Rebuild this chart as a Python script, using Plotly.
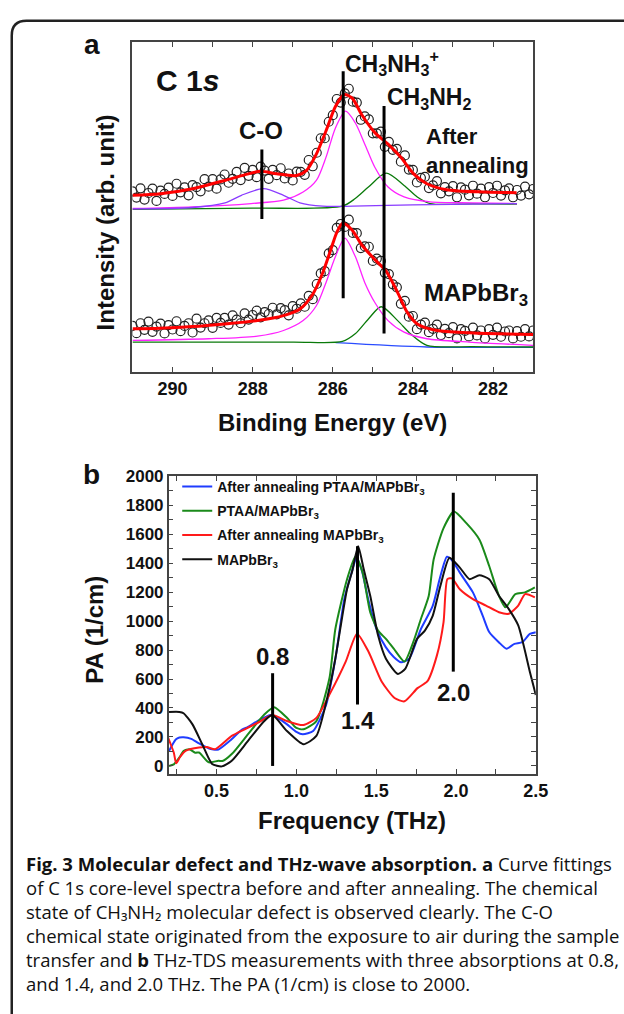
import plotly.graph_objects as go

W, H = 624, 1014
FONT = "Liberation Sans, Arial, sans-serif"
CAP_FONT = "Open Sans, Lato, sans-serif"

# ---------------- Panel a: XPS C 1s ----------------
energy_pts = [291.0, 290.9, 290.8, 290.7, 290.6, 290.5, 290.4, 290.3, 290.2, 290.1,
              290.0, 289.9, 289.8, 289.7, 289.6, 289.5, 289.4, 289.3, 289.2, 289.1,
              289.0, 288.9, 288.8, 288.7, 288.6, 288.5, 288.4, 288.3, 288.2, 288.1,
              288.0, 287.9, 287.8, 287.7, 287.6, 287.5, 287.4, 287.3, 287.2, 287.1,
              287.0, 286.9, 286.8, 286.7, 286.6, 286.5, 286.4, 286.3, 286.2, 286.1,
              286.0, 285.9, 285.8, 285.7, 285.6, 285.5, 285.4, 285.3, 285.2, 285.1,
              285.0, 284.9, 284.8, 284.7, 284.6, 284.5, 284.4, 284.3, 284.2, 284.1,
              284.0, 283.9, 283.8, 283.7, 283.6, 283.5, 283.4, 283.3, 283.2, 283.1,
              283.0, 282.9, 282.8, 282.7, 282.6, 282.5, 282.4, 282.3, 282.2, 282.1,
              282.0, 281.9, 281.8, 281.7, 281.6, 281.5, 281.4, 281.3, 281.2, 281.1,
              281.0]

annealed_pts = [54.7, 52.8, 55.6, 52.2, 54.2, 55.5, 51.8, 54.9, 53.9, 55.8,
                53.3, 57.0, 54.4, 55.9, 53.5, 56.6, 56.0, 54.7, 58.4, 56.1,
                58.4, 55.5, 58.3, 59.8, 57.3, 58.5, 60.6, 58.1, 61.8, 59.4,
                61.2, 59.0, 62.2, 61.0, 58.5, 61.2, 59.6, 61.7, 58.6, 60.1,
                58.0, 60.7, 60.6, 59.7, 64.2, 62.3, 66.4, 70.8, 70.8, 75.8,
                77.8, 82.7, 81.6, 84.4, 85.8, 81.9, 81.6, 76.4, 77.4, 76.5,
                72.3, 72.3, 72.8, 68.2, 69.7, 67.3, 67.6, 63.7, 65.6, 61.3,
                61.2, 57.4, 58.8, 59.1, 55.7, 56.5, 57.8, 54.1, 56.0, 54.7,
                56.3, 52.9, 55.9, 55.2, 53.5, 56.4, 54.0, 55.5, 52.9, 56.0,
                54.2, 56.4, 53.4, 55.0, 55.6, 52.9, 55.1, 53.4, 56.1, 53.8,
                55.4]

pristine_pts = [13.9, 11.7, 14.7, 12.7, 15.2, 12.1, 13.7, 14.6, 11.6, 14.1,
                12.8, 15.3, 12.3, 13.9, 14.7, 11.9, 16.1, 13.4, 14.7, 15.6,
                13.3, 16.3, 14.8, 16.3, 14.3, 17.1, 15.8, 14.7, 17.7, 15.8,
                17.2, 18.5, 16.5, 18.1, 17.5, 19.4, 17.4, 19.3, 18.7, 17.1,
                19.9, 19.1, 20.7, 19.7, 23.0, 22.0, 26.6, 29.8, 30.5, 35.9,
                36.9, 43.6, 44.8, 43.9, 46.1, 42.1, 42.0, 37.5, 38.0, 37.9,
                33.6, 34.3, 33.6, 30.0, 29.6, 26.5, 25.6, 20.6, 21.5, 16.7,
                16.9, 12.9, 14.3, 14.9, 12.0, 13.0, 14.3, 11.1, 13.0, 11.7,
                13.5, 10.1, 12.9, 12.4, 10.7, 13.4, 11.0, 12.5, 10.1, 12.9,
                11.2, 13.4, 10.6, 12.2, 12.5, 10.1, 12.3, 10.6, 12.9, 10.7,
                12.5]

# fitted envelopes
annealed_fit_e = [291.0, 290.3, 289.5, 288.7, 288.2, 287.8, 287.4, 286.9, 286.66, 286.41,
                  286.17, 285.93, 285.72, 285.52, 285.28, 284.95, 284.62, 284.30, 283.98,
                  283.65, 283.16, 282.19, 281.41]
annealed_fit_v = [53.5, 54.0, 55.5, 58.0, 59.7, 60.8, 60.0, 59.5, 61.0, 66.0,
                  73.0, 80.5, 84.0, 83.0, 78.0, 72.5, 69.0, 65.0, 60.0,
                  57.0, 55.2, 54.5, 54.3]
pristine_fit_e = [291.0, 290.32, 289.5, 288.69, 287.88, 287.23, 286.82, 286.5, 286.25, 286.05,
                  285.89, 285.75, 285.52, 285.28, 284.95, 284.67, 284.38, 284.14, 283.89,
                  283.40, 282.59, 281.05, 281.0]
pristine_fit_v = [13.0, 13.2, 13.7, 14.5, 15.5, 17.0, 19.0, 23.5, 30.0, 37.0,
                  42.5, 45.0, 43.0, 38.5, 34.0, 30.5, 24.0, 18.0, 14.5,
                  12.5, 11.8, 11.3, 11.3]

# components, after annealing
ann_mag_e = [291.0, 289.5, 288.04, 287.23, 286.74, 286.41, 286.17, 285.93, 285.68, 285.44,
             285.2, 284.95, 284.62, 284.22, 283.57, 282.5, 281.4]
ann_mag_v = [49.5, 50.0, 51.0, 52.0, 54.5, 58.0, 65.0, 74.0, 79.0, 75.5,
             69.0, 62.0, 56.0, 53.0, 51.5, 51.2, 51.0]
ann_co_e = [291.0, 289.5, 288.69, 288.28, 287.73, 287.23, 286.82, 286.25, 285.5, 284.0, 281.4]
ann_co_v = [49.4, 49.8, 51.2, 53.5, 55.5, 53.5, 51.2, 50.2, 50.2, 50.6, 51.0]
ann_am_e = [291.0, 288.0, 285.76, 285.44, 285.11, 284.67, 284.22, 283.89, 283.57, 282.5, 281.4]
ann_am_v = [49.2, 49.6, 50.2, 52.5, 56.0, 60.2, 56.5, 53.0, 51.0, 50.9, 50.8]

# components, MAPbBr3
pri_mag_e = [291.0, 289.1, 287.88, 287.23, 286.74, 286.41, 286.17, 285.93, 285.70, 285.44,
             285.2, 284.95, 284.62, 284.22, 283.65, 282.6, 281.0]
pri_mag_v = [9.5, 10.0, 10.8, 12.5, 15.5, 20.0, 27.0, 35.0, 40.5, 35.0,
             27.0, 21.0, 15.5, 12.0, 10.0, 9.0, 8.0]
pri_am_e = [291.0, 287.0, 285.76, 285.44, 285.11, 284.79, 284.38, 284.06, 283.65, 282.5, 281.0]
pri_am_v = [9.0, 9.0, 9.2, 11.5, 16.0, 19.7, 15.5, 11.5, 8.0, 7.6, 7.5]
pri_bg_e = [285.93, 283.65, 281.0]
pri_bg_v = [8.8, 7.5, 7.4]

# peak marker lines (energy, bottom, top)
xps_marks_e = [287.77, 285.74, 284.72]
xps_marks_lo = [46.3, 22.3, 11.6]
xps_marks_hi = [67.4, 91.1, 80.6]

# ---------------- Panel b: THz-TDS ----------------
blue_f = [0.202, 0.244, 0.267, 0.293, 0.341, 0.39, 0.463, 0.512, 0.585, 0.659, 0.697, 0.756,
          0.84, 0.9, 0.941, 1.0, 1.04, 1.105, 1.187, 1.248, 1.3, 1.345, 1.377, 1.41, 1.45,
          1.5, 1.56, 1.61, 1.656, 1.707, 1.78, 1.854, 1.9, 1.943, 1.975, 2.024, 2.106,
          2.167, 2.208, 2.268, 2.317, 2.366, 2.415, 2.463, 2.5]
blue_v = [103, 182, 196, 198, 187, 155, 116, 114, 175, 251, 270, 310,
          351, 320, 287, 235, 218, 241, 424, 765, 1150, 1330, 1435, 1350, 1150,
          950, 820, 752, 715, 740, 945, 1105, 1300, 1444, 1420, 1334, 1198,
          1038, 924, 854, 809, 843, 854, 911, 923]

green_f = [0.202, 0.232, 0.267, 0.293, 0.329, 0.366, 0.39, 0.451, 0.512, 0.537, 0.595, 0.697,
           0.799, 0.86, 0.941, 1.0, 1.044, 1.125, 1.207, 1.244, 1.317, 1.371, 1.415, 1.463,
           1.512, 1.561, 1.61, 1.677, 1.732, 1.78, 1.829, 1.86, 1.922, 1.987, 2.065,
           2.147, 2.208, 2.269, 2.31, 2.372, 2.433, 2.494]
green_v = [0, 11, 59, 103, 116, 91, 93, 25, 36, 34, 82, 219,
           355, 405, 332, 262, 253, 310, 605, 945, 1287, 1447, 1333, 1059,
           934, 877, 809, 720, 854, 1014, 1173, 1425, 1642, 1756, 1676,
           1562, 1380, 1175, 1095, 1186, 1198, 1232]

red_f = [0.196, 0.232, 0.247, 0.27, 0.308, 0.39, 0.439, 0.492, 0.595, 0.676, 0.758, 0.85,
         0.941, 1.044, 1.125, 1.207, 1.309, 1.38, 1.452, 1.534, 1.615, 1.677, 1.759, 1.82,
         1.881, 1.922, 1.946, 1.975, 2.024, 2.106, 2.188, 2.269, 2.33, 2.39, 2.433, 2.494]
red_v = [196, 91, 18, 60, 105, 127, 130, 116, 207, 253, 298, 351,
         310, 282, 332, 492, 720, 913, 788, 583, 469, 446, 537, 583,
         765, 993, 1289, 1295, 1220, 1152, 1107, 1061, 1050, 1107, 1186, 1164]

black_f = [0.202, 0.267, 0.293, 0.349, 0.41, 0.472, 0.533, 0.595, 0.697, 0.799, 0.85,
           0.941, 1.044, 1.125, 1.207, 1.244, 1.317, 1.35, 1.387, 1.422, 1.463, 1.512,
           1.561, 1.636, 1.683, 1.756, 1.805, 1.854, 1.902, 1.959, 2.024, 2.085, 2.146,
           2.208, 2.269, 2.33, 2.39, 2.463, 2.5]
black_v = [373, 373, 364, 287, 150, 14, -3, 36, 173, 310, 351,
           241, 150, 207, 537, 740, 1219, 1346, 1517, 1357, 1173, 900,
           740, 635, 672, 877, 934, 1036, 1242, 1437, 1369, 1289, 1316,
           1289, 1175, 1084, 970, 649, 490]

thz_names = ["After annealing PTAA/MAPbBr<sub>3</sub>", "PTAA/MAPbBr<sub>3</sub>",
             "After annealing MAPbBr<sub>3</sub>", "MAPbBr<sub>3</sub>"]
thz_colors = ["#1f3cff", "#1a8a1a", "#ff1a1a", "#111111"]

thz_marks_f = [0.851, 1.383, 1.983]
thz_marks_lo = [0, 424, 651]
thz_marks_hi = [640, 1517, 1885]
thz_labels = ["0.8", "1.4", "2.0"]
thz_label_v = [754, 316, 508]

caption_lines = [
    "<b>Fig. 3 Molecular defect and THz-wave absorption. a</b> Curve fittings",
    "of C 1s core-level spectra before and after annealing. The chemical",
    "state of CH\u2083NH\u2082 molecular defect is observed clearly. The C-O",
    "chemical state originated from the exposure to air during the sample",
    "transfer and <b>b</b> THz-TDS measurements with three absorptions at 0.8,",
    "and 1.4, and 2.0 THz. The PA (1/cm) is close to 2000.",
]

# ---------------- layout helpers ----------------
def px(x):
    return x / W

def py(y):
    return 1 - y / H

fig = go.Figure()

# panel a traces
for pts in (annealed_pts, pristine_pts):
    fig.add_trace(go.Scatter(x=energy_pts, y=pts, mode="markers", xaxis="x", yaxis="y",
                             marker=dict(symbol="circle-open", size=9, color="#222",
                                         line=dict(width=1.2)),
                             showlegend=False))
comp = [
    (ann_am_e, ann_am_v, "#0a7a0a"),
    (ann_mag_e, ann_mag_v, "#ff22ff"),
    (ann_co_e, ann_co_v, "#8a3cff"),
    (pri_bg_e, pri_bg_v, "#2a4cff"),
    (pri_am_e, pri_am_v, "#0a7a0a"),
    (pri_mag_e, pri_mag_v, "#ff22ff"),
]
for ex, ey, c in comp:
    fig.add_trace(go.Scatter(x=ex, y=ey, mode="lines", xaxis="x", yaxis="y",
                             line=dict(color=c, width=1.3, shape="spline", smoothing=0.8),
                             showlegend=False))
for ex, ey in [(annealed_fit_e, annealed_fit_v), (pristine_fit_e, pristine_fit_v)]:
    fig.add_trace(go.Scatter(x=ex, y=ey, mode="lines", xaxis="x", yaxis="y",
                             line=dict(color="#ff0000", width=3, shape="spline", smoothing=0.8),
                             showlegend=False))
for e, lo, hi in zip(xps_marks_e, xps_marks_lo, xps_marks_hi):
    fig.add_trace(go.Scatter(x=[e, e], y=[lo, hi], mode="lines", xaxis="x", yaxis="y",
                             line=dict(color="black", width=3), showlegend=False))

# panel b traces
for f, v, name, c in zip([blue_f, green_f, red_f, black_f], [blue_v, green_v, red_v, black_v],
                         thz_names, thz_colors):
    fig.add_trace(go.Scatter(x=f, y=v, mode="lines", xaxis="x2", yaxis="y2", name=name,
                             line=dict(color=c, width=2, shape="spline", smoothing=0.6),
                             legendgroup=name))
for f, lo, hi in zip(thz_marks_f, thz_marks_lo, thz_marks_hi):
    fig.add_trace(go.Scatter(x=[f, f], y=[lo, hi], mode="lines", xaxis="x2", yaxis="y2",
                             line=dict(color="black", width=3), showlegend=False))

axis_common = dict(showgrid=False, zeroline=False, showline=True, linecolor="#444",
                   linewidth=1.5, mirror="ticks", ticks="inside", ticklen=5, tickcolor="#444",
                   tickfont=dict(family=FONT, size=18, color="#111", weight="bold"))

fig.update_layout(
    width=W, height=H, margin=dict(l=0, r=0, t=0, b=0),
    paper_bgcolor="white", plot_bgcolor="white",
    xaxis=dict(domain=[px(135.3), px(544.4)], range=[291, 281], anchor="y",
               tick0=0, dtick=2, minor=dict(dtick=1, ticks="inside", ticklen=5, tickcolor="#444"),
               **axis_common),
    yaxis=dict(domain=[py(366.7), py(33.3)], range=[0, 100], anchor="x",
               showgrid=False, zeroline=False, showline=True, linecolor="#444", linewidth=1.5,
               mirror=True, ticks="", showticklabels=False),
    xaxis2=dict(domain=[px(172.3), px(547.2)], range=[0.2, 2.5], anchor="y2",
                tick0=0, dtick=0.5, tickformat=".1f",
                minor=dict(dtick=0.25, ticks="inside", ticklen=5, tickcolor="#444"),
                **axis_common),
    yaxis2=dict(domain=[py(773.3), py(472.3)], range=[-55, 2000], anchor="x2",
                tick0=0, dtick=200,
                minor=dict(dtick=100, ticks="inside", ticklen=5, tickcolor="#444"),
                **{**axis_common, "tickfont": dict(family=FONT, size=17, color="#111", weight="bold")}),
    legend=dict(x=px(181), y=py(467), xanchor="left", yanchor="top",
                bgcolor="rgba(0,0,0,0)", tracegroupgap=3,
                font=dict(family=FONT, size=14, color="#111", weight="bold")),
    showlegend=True,
)

ann = []
def label(text, x, y, size, xref="paper", yref="paper", angle=0, xanchor="center", bold=True,
          family=FONT, align="center", yanchor="middle"):
    ann.append(dict(text=text, x=x, y=y, xref=xref, yref=yref, showarrow=False, textangle=angle,
                    xanchor=xanchor, yanchor=yanchor, align=align,
                    font=dict(family=family, size=size, color="#111",
                              weight="bold" if bold else "normal")))

# panel letters and axis titles
label("a", px(93.5), py(36), 28)
label("b", px(93.5), py(471), 28)
label("Intensity (arb. unit)", px(108), py(216), 24, angle=-90)
label("Binding Energy (eV)", px(340), py(418), 24)
label("PA (1/cm)", px(96.5), py(627), 24, angle=-90)
label("Frequency (THz)", px(359), py(820), 24)

# panel a annotations
label("C 1<i>s</i>", 289.62, 88.4, 30, xref="x", yref="y")
label("C-O", 287.78, 73.0, 24, xref="x", yref="y")
label("CH<sub>3</sub>NH<sub>3</sub><sup>+</sup>", 284.51, 93.5, 23, xref="x", yref="y")
label("CH<sub>3</sub>NH<sub>2</sub>", 283.59, 82.7, 23, xref="x", yref="y")
label("After<br>annealing", 283.72, 67.0, 22, xref="x", yref="y", xanchor="left", align="left")
label("MAPbBr<sub>3</sub>", 282.42, 23.3, 24, xref="x", yref="y")

# panel b annotations
for f, t, v in zip(thz_marks_f, thz_labels, thz_label_v):
    label(t, f, v, 24, xref="x2", yref="y2")

# caption
label("<br>".join(caption_lines), px(25), py(849), 18.5, xanchor="left", bold=False,
      family=CAP_FONT, align="left", yanchor="top")

fig.update_layout(annotations=ann)

# rounded frame around the figure
r = 15
path = (f"M {px(12)},{py(1040)} L {px(12)},{py(12 + r)} "
        f"Q {px(12)},{py(12)} {px(12 + r)},{py(12)} L {px(660)},{py(12)}")
fig.add_shape(type="path", path=path, xref="paper", yref="paper",
              line=dict(color="#222", width=2.5))

pin = ("document.body.style.margin='0';document.body.style.overflow='hidden';"
       "var g=document.getElementById('{plot_id}');g.style.position='absolute';"
       "g.style.left='0px';g.style.top='0px';")
fig.write_html("out.html", post_script=pin, config={"displayModeBar": False})
